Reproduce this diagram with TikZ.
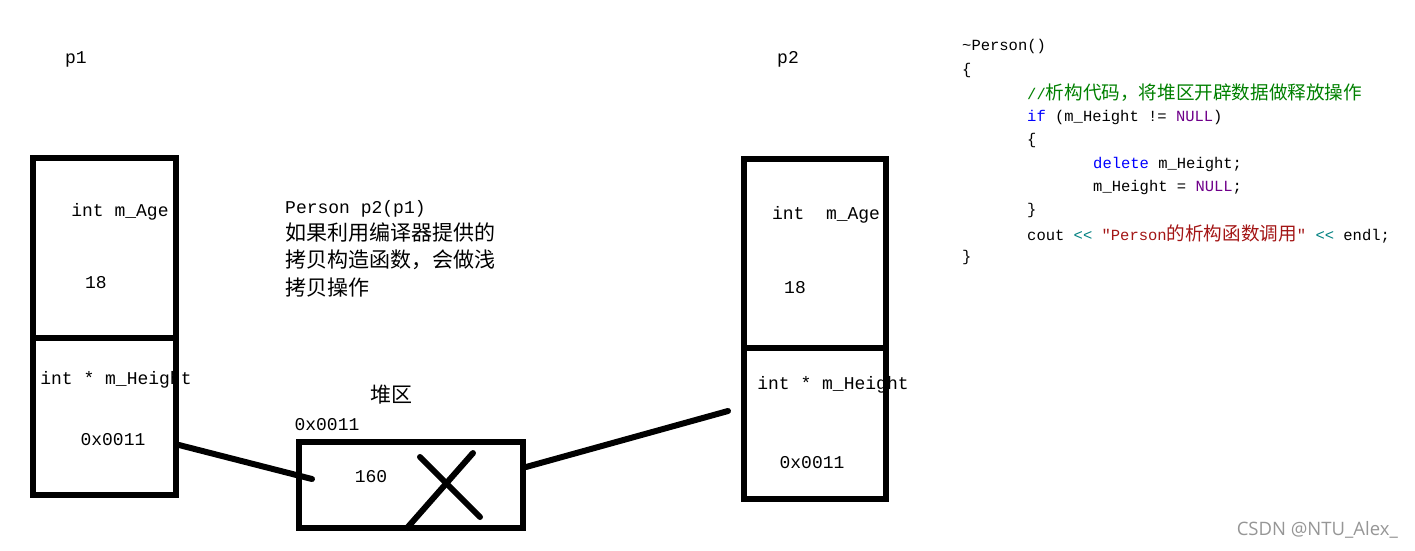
\documentclass[tikz,border=0pt]{standalone}
\usepackage{fontspec}
\setmonofont{Liberation Mono}
\newfontfamily\cjk{Noto Sans CJK SC}
\newfontfamily\wmfont{Open Sans}
\usetikzlibrary{calc}
\definecolor{cmtgreen}{RGB}{0,128,0}
\definecolor{kwblue}{RGB}{0,0,255}
\definecolor{macpurple}{RGB}{111,0,138}
\definecolor{strred}{RGB}{163,21,21}
\definecolor{optteal}{RGB}{0,128,128}
\definecolor{markgray}{RGB}{150,150,150}
\def\boxline{6pt}
\def\lblfont{\ttfamily\fontsize{18}{20}\selectfont}
\def\codefont{\ttfamily\fontsize{15.5}{18}\selectfont}
\def\codecjk{\cjk\fontsize{18.6}{18}\selectfont}
\def\notecjk{\cjk\fontsize{21}{27.3}\selectfont}
\def\indA{1027}
\def\indB{1093}

\begin{document}
\begin{tikzpicture}[x=1pt,y=-1pt,
	cell/.style={rectangle,draw,line width=\boxline,minimum width=143pt,inner sep=0pt},
	lbl/.style={font=\lblfont,inner sep=0pt},
	code/.style={font=\codefont,anchor=west,inner sep=0pt},
	link/.style={line width=6pt,line cap=round}
	]
	\useasboundingbox (0,0) rectangle (1415,550);
	
	% p1
	\node[lbl] (p1name) at (76,59) {p1};
	\node[lbl] (p1agelbl) at (120,212) {int m\_Age};
	\node[lbl] (p1ageval) at (96,283) {18};
	\node[lbl] (p1hlbl) at (116,380) {int * m\_Height};
	\node[lbl] (p1hval) at (113,440) {0x0011};
	\node[cell,minimum height=180pt] (p1age) at (104.5,248) {};
	\node[cell,minimum height=157pt] (p1height) at (104.5,416.5) {};
	
	% p2
	\node[lbl] (p2name) at (788,59) {p2};
	\node[lbl] (p2agelbl) at (826,215) {int\ \ m\_Age};
	\node[lbl] (p2ageval) at (795,288) {18};
	\node[lbl] (p2hlbl) at (833,385) {int * m\_Height};
	\node[lbl] (p2hval) at (812,463) {0x0011};
	\node[cell,minimum width=142pt,minimum height=189pt] (p2age) at (815,253.5) {};
	\node[cell,minimum width=142pt,minimum height=151pt] (p2height) at (815,423.5) {};
	
	\node[anchor=north west,align=left,inner sep=0pt,font=\notecjk] (note) at (285,200)
		{{\ttfamily\fontsize{18}{27.3}\selectfont Person p2(p1)}\\如果利用编译器提供的\\拷贝构造函数，会做浅\\拷贝操作};
	
	% heap
	\node[inner sep=0pt,font=\notecjk] (heapname) at (391,395) {堆区};
	\node[lbl] (heapaddr) at (327,425) {0x0011};
	\node[lbl] (heapval) at (371,477) {160};
	\node[cell,minimum width=224pt,minimum height=86pt] (heap) at (411,485) {};
	\draw[link] (420,457) -- (480,517);
	\draw[link] (473,453) -- (407,528);
	
	\coordinate (heapin) at (312,479);
	\coordinate (loose) at (728,411);
	\draw[link] ([yshift=-28.5pt]p1height.east) -- (heapin);
	\draw[link] ([yshift=18pt]heap.east) -- (loose);
	
	% destructor code
	\node[code] (c1) at (962,46) {\string~Person()};
	\node[code] (c2) at (962,70) {\{};
	\node[code] (c3) at (\indA,93) {\textcolor{cmtgreen}{//{\codecjk 析构代码，将堆区开辟数据做释放操作}}};
	\node[code] (c4) at (\indA,117) {\textcolor{kwblue}{if} (m\_Height != \textcolor{macpurple}{NULL})};
	\node[code] (c5) at (\indA,140) {\{};
	\node[code] (c6) at (\indB,164) {\textcolor{kwblue}{delete} m\_Height;};
	\node[code] (c7) at (\indB,187) {m\_Height = \textcolor{macpurple}{NULL};};
	\node[code] (c8) at (\indA,210) {\}};
	\node[code] (c9) at (\indA,234) {cout \textcolor{optteal}{<<} \textcolor{strred}{"Person{\codecjk 的析构函数调用}"} \textcolor{optteal}{<<} endl;};
	\node[code] (c10) at (962,257) {\}};
	
	\node[font=\wmfont\fontsize{18.5}{18.5}\selectfont,text=markgray,anchor=east,inner sep=0pt] (mark) at (1398,530) {CSDN @NTU\_Alex\_};
\end{tikzpicture}
\end{document}
